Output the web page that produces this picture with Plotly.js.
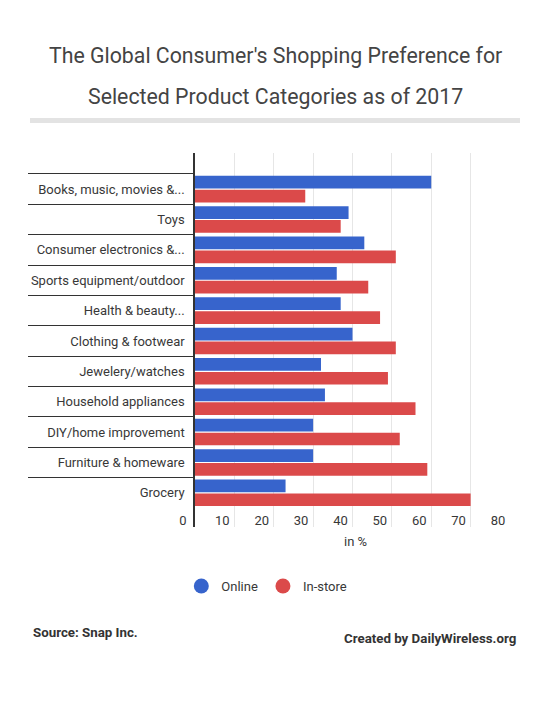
<!DOCTYPE html>
<html>
<head>
<meta charset="utf-8">
<script src="https://cdn.plot.ly/plotly-3.0.1.min.js"></script>
<style>
  html, body { margin: 0; padding: 0; background: #fff; }
  #chart { width: 550px; height: 702px; }
</style>
</head>
<body>
<div id="chart"></div>
<script>
// Product categories, top to bottom
const categories = [
  "Books, music, movies &...",
  "Toys",
  "Consumer electronics &...",
  "Sports equipment/outdoor",
  "Health & beauty...",
  "Clothing & footwear",
  "Jewelery/watches",
  "Household appliances",
  "DIY/home improvement",
  "Furniture & homeware",
  "Grocery"
];

// Share of shoppers preferring each channel, in %
const online  = [60, 39, 43, 36, 37, 40, 32, 33, 30, 30, 23];
const inStore = [28, 37, 51, 44, 47, 51, 49, 56, 52, 59, 70];

const seriesNames = ["Online", "In-store"];
const seriesColors = ["#3764cc", "#db4a4a"];

const xTicks = [0, 10, 20, 30, 40, 50, 60, 70, 80];

const titleLines = [
  "The Global Consumer's Shopping Preference for",
  "Selected Product Categories as of 2017"
];
const sourceText = "Source: Snap Inc.";
const creditText = "Created by DailyWireless.org";
const xTitle = "in %";

const textColor = "#444444";
const labelColor = "#383838";
const font = "Roboto, 'Open Sans', sans-serif";

const barTrace = (vals, i) => ({
  type: "bar",
  orientation: "h",
  name: seriesNames[i],
  y: categories,
  x: vals,
  marker: { color: seriesColors[i] },
  showlegend: false,
  legendgroup: seriesNames[i],
  hoverinfo: "x+y"
});

// Circle swatches for the legend
const legendTrace = (i) => ({
  type: "scatter",
  mode: "markers",
  name: seriesNames[i],
  x: [null],
  y: [null],
  marker: { color: seriesColors[i], size: 15, symbol: "circle" },
  legendgroup: seriesNames[i]
});

const data = [
  barTrace(online, 0),
  barTrace(inStore, 1),
  legendTrace(0),
  legendTrace(1)
];

const layout = {
  width: 550,
  height: 702,
  margin: { l: 195, r: 40, t: 153, b: 175 },
  paper_bgcolor: "#ffffff",
  plot_bgcolor: "#ffffff",
  font: { family: font, color: textColor, size: 13 },
  barmode: "group",
  bargap: 0.09,
  bargroupgap: 0.08,
  showlegend: true,
  legend: {
    orientation: "h",
    x: 0.228,
    xanchor: "center",
    y: -0.158,
    yanchor: "middle",
    font: { family: font, size: 13, color: labelColor },
    itemclick: false,
    itemdoubleclick: false
  },
  xaxis: {
    range: [0, 80],
    tickvals: xTicks,
    ticktext: xTicks.map(String),
    showgrid: true,
    gridcolor: "#e6e6e6",
    gridwidth: 1,
    zeroline: false,
    showline: false,
    ticks: "",
    ticklabelstandoff: -16,
    ticklabelshift: -12,
    tickfont: { family: font, size: 13, color: labelColor },
    fixedrange: true
  },
  yaxis: {
    type: "category",
    categoryorder: "array",
    categoryarray: categories,
    range: [11.125, -1.19],
    showgrid: false,
    zeroline: false,
    showline: true,
    linecolor: "#333333",
    linewidth: 1.5,
    ticks: "outside",
    tickson: "boundaries",
    ticklen: 165,
    tickwidth: 1,
    tickcolor: "#333333",
    ticklabelstandoff: 6,
    tickfont: { family: font, size: 13, color: labelColor },
    fixedrange: true
  },
  shapes: [
    {
      type: "rect",
      xref: "paper", yref: "paper",
      x0: -0.5238, x1: 1.0317,
      y0: 1.0802, y1: 1.0936,
      fillcolor: "#e3e3e3",
      line: { width: 0 }
    }
  ],
  annotations: [
    {
      text: titleLines[0],
      xref: "paper", yref: "paper",
      x: 0.254, xanchor: "center",
      y: 1.2594, yanchor: "middle",
      showarrow: false,
      font: { family: font, size: 21.3, color: textColor }
    },
    {
      text: titleLines[1],
      xref: "paper", yref: "paper",
      x: 0.254, xanchor: "center",
      y: 1.1524, yanchor: "middle",
      showarrow: false,
      font: { family: font, size: 21.3, color: textColor }
    },
    {
      text: xTitle,
      xref: "paper", yref: "paper",
      x: 0.508, xanchor: "center",
      y: -0.040, yanchor: "middle",
      showarrow: false,
      font: { family: font, size: 13, color: labelColor }
    },
    {
      text: "<b>" + sourceText + "</b>",
      xref: "paper", yref: "paper",
      x: -0.5206, xanchor: "left",
      y: -0.2834, yanchor: "middle",
      showarrow: false,
      font: { family: font, size: 13.3, color: "#333333" }
    },
    {
      text: "<b>" + creditText + "</b>",
      xref: "paper", yref: "paper",
      x: 1.0254, xanchor: "right",
      y: -0.2968, yanchor: "middle",
      showarrow: false,
      font: { family: font, size: 13.3, color: "#333333" }
    }
  ]
};

Plotly.newPlot("chart", data, layout, { displayModeBar: false, staticPlot: false, responsive: false });
</script>
</body>
</html>
